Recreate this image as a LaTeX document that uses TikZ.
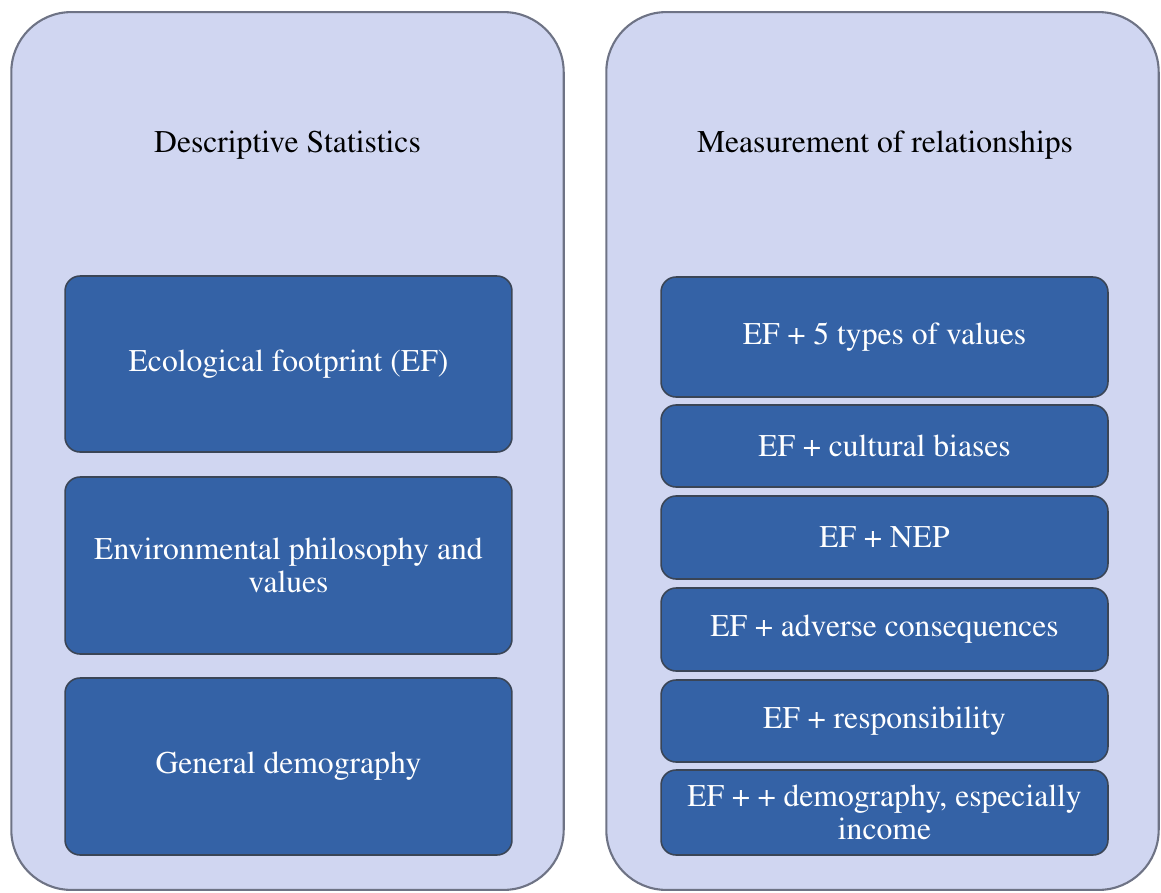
\documentclass[tikz,border=0pt]{standalone}
\usepackage[T1]{fontenc}
\renewcommand\rmdefault{ptm}
\definecolor{panelfill}{HTML}{D0D6F1}
\definecolor{panelrim}{HTML}{6E7385}
\definecolor{boxfill}{HTML}{3462A6}
\definecolor{boxrim}{HTML}{3A4556}
\begin{document}
\begin{tikzpicture}[x=0.02cm, y=-0.02cm,
  panel/.style={rectangle, rounded corners=1.2cm, fill=panelfill, draw=panelrim, line width=1.2pt, minimum width=11.05cm, minimum height=17.56cm},
  ptitle/.style={font=\fontsize{18}{19}\selectfont, text=black},
  item/.style={rectangle, rounded corners=0.3cm, fill=boxfill, draw=boxrim, line width=0.9pt, minimum width=8.94cm, text=white, align=center, inner sep=0pt, font=\fontsize{18}{19}\selectfont}]
\useasboundingbox (0,0) rectangle (1161,893);
\node[panel] (left) at (287.5,451){};
\node[panel] (right) at (882.5,451){};
\node[ptitle] (ltitle) at (287.5,145){Descriptive Statistics};
\node[ptitle] (rtitle) at (885,145){Measurement of relationships};
\node[item, minimum height=3.52cm] (ef) at (288.5,364){Ecological footprint (EF)};
\node[item, minimum height=3.54cm] (phil) at (288.5,565.5){Environmental philosophy and\\values};
\node[item, minimum height=3.54cm] (demo) at (288.5,766.5){General demography};
\node[item, minimum height=2.4cm] (rel1) at (884.5,337){EF + 5 types of values};
\node[item, minimum height=1.64cm] (rel2) at (884.5,446){EF + cultural biases};
\node[item, minimum height=1.66cm] (rel3) at (884.5,537.5){EF + NEP};
\node[item, minimum height=1.66cm] (rel4) at (884.5,629.5){EF + adverse consequences};
\node[item, minimum height=1.64cm] (rel5) at (884.5,721){EF + responsibility};
\node[item, minimum height=1.7cm] (rel6) at (884.5,812.5){EF + + demography, especially\\income};

\end{tikzpicture}
\end{document}
